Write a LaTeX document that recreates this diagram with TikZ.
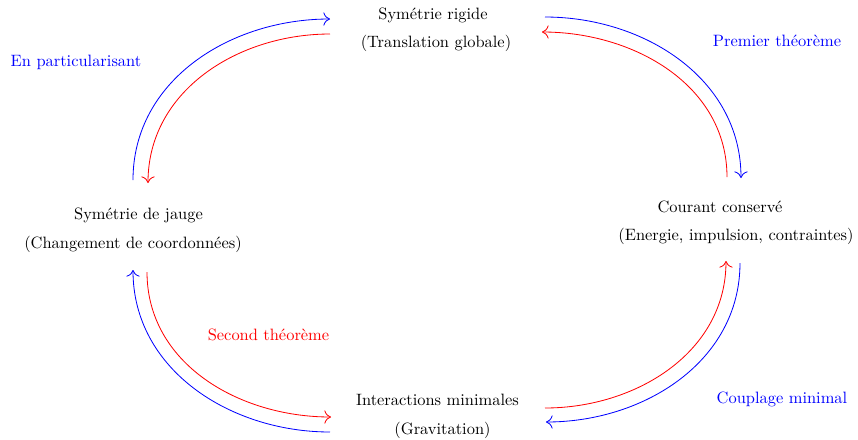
\documentclass[tikz,border=0pt]{standalone}
\usetikzlibrary{calc,arrows.meta}
\begin{document}
\begin{tikzpicture}[x=0.6086pt,y=0.6086pt,
  txt/.style={anchor=base,inner sep=0pt,text=black},
  lblb/.style={anchor=base,inner sep=0pt,text=blue},
  lblr/.style={anchor=base,inner sep=0pt,text=red},
  arr/.style={line width=0.5pt,-{To[length=4pt,width=8pt]}},
  barr/.style={arr,blue},
  rarr/.style={arr,red}]
\useasboundingbox (0,0) rectangle (858,-439);
% nodes
\node[txt] (rig)  at (433,-19.5) {Symétrie rigide};
\node[txt] (rig2) at (436,-47)   {(Translation globale)};
\node[txt] (jau)  at (138.5,-219) {Symétrie de jauge};
\node[txt] (jau2) at (133,-248)  {(Changement de coordonnées)};
\node[txt] (cou)  at (720,-212)  {Courant conservé};
\node[txt] (cou2) at (736,-240)  {(Energie, impulsion, contraintes)};
\node[txt] (int)  at (437.5,-405) {Interactions minimales};
\node[txt] (int2) at (442.5,-434) {(Gravitation)};
% labels
\node[lblb] (lp)  at (76,-66)   {En particularisant};
\node[lblb] (lpt) at (777,-46)  {Premier théorème};
\node[lblr] (lst) at (268.5,-340) {Second théorème};
\node[lblb] (lcm) at (782,-403) {Couplage minimal};
% connectors
\draw[barr] ($(jau.base)+(-5.5,39)$) to[out=90,in=180] ($(rig.base)+(-103,0.5)$);
\draw[rarr] ($(rig.base)+(-103,-14.5)$) to[out=180,in=90] ($(jau.base)+(9.5,36)$);
\draw[barr] ($(rig.base)+(112,2.5)$) to[out=0,in=90] ($(cou.base)+(21,34)$);
\draw[rarr] ($(cou.base)+(7,35)$) to[out=90,in=0] ($(rig.base)+(109,-12.5)$);
\draw[barr] ($(int.base)+(-107.5,-27)$) to[out=180,in=270] ($(jau2.base)+(0,-22)$);
\draw[rarr] ($(jau2.base)+(14,-24)$) to[out=270,in=180] ($(int.base)+(-106.5,-12)$);
\draw[rarr] ($(int.base)+(107.5,-3)$) to[out=0,in=270] ($(cou2.base)+(-10,-21)$);
\draw[barr] ($(cou2.base)+(4,-23)$) to[out=270,in=0] ($(int.base)+(108.5,-17)$);
\end{tikzpicture}
\end{document}
